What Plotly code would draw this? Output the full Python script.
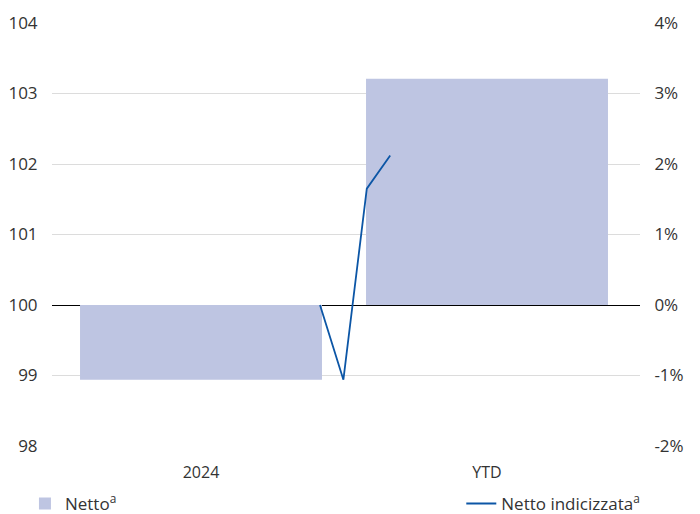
import plotly.graph_objects as go

categories = ["2024", "YTD"]
netto_pct = [-1.06, 3.21]

line_steps = [0, 1, 2, 3]
netto_indicizzata = [100.0, 98.94, 101.65, 102.12]

left_ticks = [98, 99, 100, 101, 102, 103, 104]
right_ticks = [-2, -1, 0, 1, 2, 3, 4]
right_ticklabels = ["-2%", "-1%", "0%", "1%", "2%", "3%", "4%"]

FONT = "Open Sans"
BAR_COLOR = "#bec5e2"
LINE_COLOR = "#0c56a6"
GRID = "#dcdcdc"
TXT = "#333333"

# the page body has an 8px default margin, so the figure is drawn 8px in
PAGE_OFFSET = 8
W, H = 700 - PAGE_OFFSET, 514 - PAGE_OFFSET

fig = go.Figure()
fig.add_trace(go.Bar(
    x=categories, y=netto_pct, name="Netto<sup>a</sup>",
    marker=dict(color=BAR_COLOR, line=dict(width=0)),
    width=0.846, xaxis="x", yaxis="y", legend="legend",
))
fig.add_trace(go.Scatter(
    x=line_steps, y=netto_indicizzata, name="Netto indicizzata<sup>a</sup>",
    mode="lines", line=dict(color=LINE_COLOR, width=1.8),
    xaxis="x2", yaxis="y2", legend="legend2",
))

# pixel geometry helpers for axis ranges (window pixels)
plot_left, plot_right = 52, 640
px_per_cat = 286.0
cat_left = 201
x_min = (plot_left - cat_left) / px_per_cat
x_max = (plot_right - cat_left) / px_per_cat
step_px = 23.4
line_x0 = 320
x2_min = (plot_left - line_x0) / step_px
x2_max = (plot_right - line_x0) / step_px

fig.update_layout(
    width=W, height=H,
    margin=dict(l=52 - PAGE_OFFSET, r=60, t=23 - PAGE_OFFSET, b=68, autoexpand=False),
    paper_bgcolor="white", plot_bgcolor="white",
    font=dict(family=FONT, size=17, color=TXT),
    showlegend=True,
    xaxis=dict(
        type="category", range=[x_min, x_max], showgrid=False, zeroline=False,
        showline=False, ticks="outside", ticklen=12, tickcolor="rgba(0,0,0,0)",
        tickfont=dict(size=16, color=TXT),
    ),
    xaxis2=dict(
        overlaying="x", range=[x2_min, x2_max], showgrid=False, zeroline=False,
        showline=False, showticklabels=False, ticks="",
    ),
    yaxis=dict(
        side="right", range=[-2, 4], tickvals=right_ticks,
        ticktext=right_ticklabels, showgrid=True, gridcolor=GRID, gridwidth=1,
        zeroline=True, zerolinecolor="black", zerolinewidth=1.2, showline=False,
        ticks="outside", ticklen=10, tickcolor="rgba(0,0,0,0)",
        tickfont=dict(size=17, color=TXT),
    ),
    yaxis2=dict(
        overlaying="y", side="left", range=[98, 104], tickvals=left_ticks,
        showgrid=False, zeroline=False, showline=False,
        ticks="outside", ticklen=10, tickcolor="rgba(0,0,0,0)",
        tickfont=dict(size=17, color=TXT),
    ),
    legend=dict(
        x=-0.046, xanchor="left", y=-0.137, yanchor="middle",
        orientation="h", font=dict(size=17, color=TXT),
        itemwidth=30, bgcolor="rgba(0,0,0,0)",
    ),
    legend2=dict(
        x=1.009, xanchor="right", y=-0.137, yanchor="middle",
        orientation="h", font=dict(size=17, color=TXT),
        itemwidth=30, bgcolor="rgba(0,0,0,0)",
    ),
)

fig.write_html("out.html")
